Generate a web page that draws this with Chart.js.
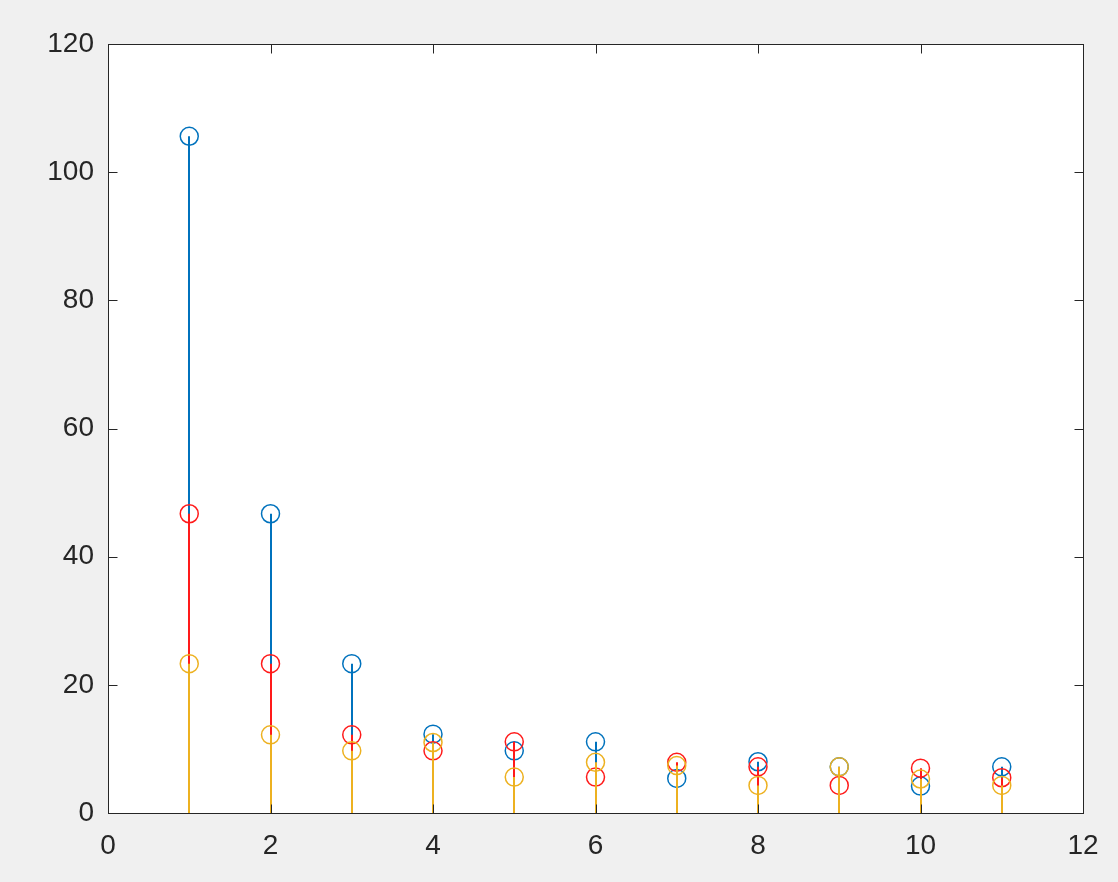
<!DOCTYPE html>
<html>
<head>
<meta charset="utf-8">
<script src="https://cdn.jsdelivr.net/npm/chart.js@4"></script>
<style>
  html, body { margin: 0; padding: 0; background: #f0f0f0; }
  #wrap { width: 1118px; height: 882px; }
</style>
</head>
<body>
<div id="wrap"><canvas id="Cnvs"></canvas></div>
<script>
// stem data
var xs     = [1, 2, 3, 4, 5, 6, 7, 8, 9, 10, 11];
var blue   = [105.6, 46.7, 23.3, 12.3, 9.7, 11.1, 5.4, 8.0, 7.2, 4.2, 7.2];
var red    = [46.7, 23.3, 12.2, 9.7, 11.1, 5.6, 7.9, 7.2, 4.3, 7.0, 5.5];
var yellow = [23.3, 12.2, 9.7, 11.0, 5.6, 7.9, 7.4, 4.3, 7.2, 5.3, 4.3];
var xTicks = [0, 2, 4, 6, 8, 10, 12];
var yTicks = [0, 20, 40, 60, 80, 100, 120];

function pts(vals) {
  return xs.map(function (x, i) { return { x: x, y: vals[i] }; });
}

function series(vals, color, ord) {
  return {
    data: pts(vals),
    borderColor: color,
    backgroundColor: 'rgba(0,0,0,0)',
    pointRadius: 9,
    pointHoverRadius: 9,
    pointBorderWidth: 1.5,
    showLine: false,
    order: ord,
    stemColor: color
  };
}

var axisColor = '#262626';

// white plot box, stems, frame with inward ticks
var stemPlugin = {
  id: 'stems',
  beforeDraw: function (chart) {
    var a = chart.chartArea, c = chart.ctx;
    c.save();
    c.fillStyle = '#ffffff';
    c.fillRect(a.left, a.top, a.right - a.left, a.bottom - a.top);
    c.restore();
  },
  beforeDatasetDraw: function (chart, args) {
    var ds = chart.data.datasets[args.index];
    var sx = chart.scales.x, sy = chart.scales.y, c = chart.ctx;
    var y0 = Math.round(sy.getPixelForValue(0));
    c.save();
    c.strokeStyle = ds.stemColor;
    c.lineWidth = 2;
    ds.data.forEach(function (p) {
      var px = Math.round(sx.getPixelForValue(p.x));
      c.beginPath();
      c.moveTo(px, y0);
      c.lineTo(px, sy.getPixelForValue(p.y));
      c.stroke();
    });
    c.restore();
  },
  afterDatasetsDraw: function (chart) {
    var a = chart.chartArea, c = chart.ctx;
    var sx = chart.scales.x, sy = chart.scales.y;
    var L = Math.round(a.left) + 0.5, R = Math.round(a.right) + 0.5;
    var T = Math.round(a.top) + 0.5, B = Math.round(a.bottom) + 0.5;
    c.save();
    c.strokeStyle = axisColor;
    c.lineWidth = 1;
    c.strokeRect(L, T, R - L, B - T);
    c.beginPath();
    xTicks.forEach(function (v) {
      var px = Math.round(sx.getPixelForValue(v)) + 0.5;
      c.moveTo(px, B); c.lineTo(px, B - 9);
      c.moveTo(px, T); c.lineTo(px, T + 9);
    });
    yTicks.forEach(function (v) {
      var py = Math.round(sy.getPixelForValue(v)) + 0.5;
      c.moveTo(L, py); c.lineTo(L + 9, py);
      c.moveTo(R, py); c.lineTo(R - 9, py);
    });
    c.stroke();
    c.restore();
  }
};

var tickFont = { family: "'Liberation Sans', Arial, sans-serif", size: 28 };

var Cnvs = document.getElementById('Cnvs').getContext('2d');
var stemChart = new Chart(Cnvs, {
  type: 'scatter',
  data: {
    datasets: [
      series(blue, '#0072BD', 3),
      series(red, '#FF1A1A', 2),
      series(yellow, '#EDB120', 1)
    ]
  },
  options: {
    responsive: true,
    maintainAspectRatio: false,
    animation: false,
    layout: { padding: { top: 44, right: 35, left: 0, bottom: 0 } },
    plugins: { legend: { display: false }, tooltip: { enabled: false } },
    scales: {
      x: {
        type: 'linear', min: 0, max: 12,
        afterBuildTicks: function (s) { s.ticks = xTicks.map(function (v) { return { value: v }; }); },
        afterFit: function (s) { s.height = 69; },
        grid: { display: false, drawTicks: false },
        border: { display: false },
        ticks: { color: axisColor, font: tickFont, padding: 16, maxRotation: 0 }
      },
      y: {
        type: 'linear', min: 0, max: 120,
        afterBuildTicks: function (s) { s.ticks = yTicks.map(function (v) { return { value: v }; }); },
        afterFit: function (s) { s.width = 108; },
        grid: { display: false, drawTicks: false },
        border: { display: false },
        ticks: { color: axisColor, font: tickFont, padding: 14 }
      }
    }
  },
  plugins: [stemPlugin]
});
</script>
</body>
</html>
